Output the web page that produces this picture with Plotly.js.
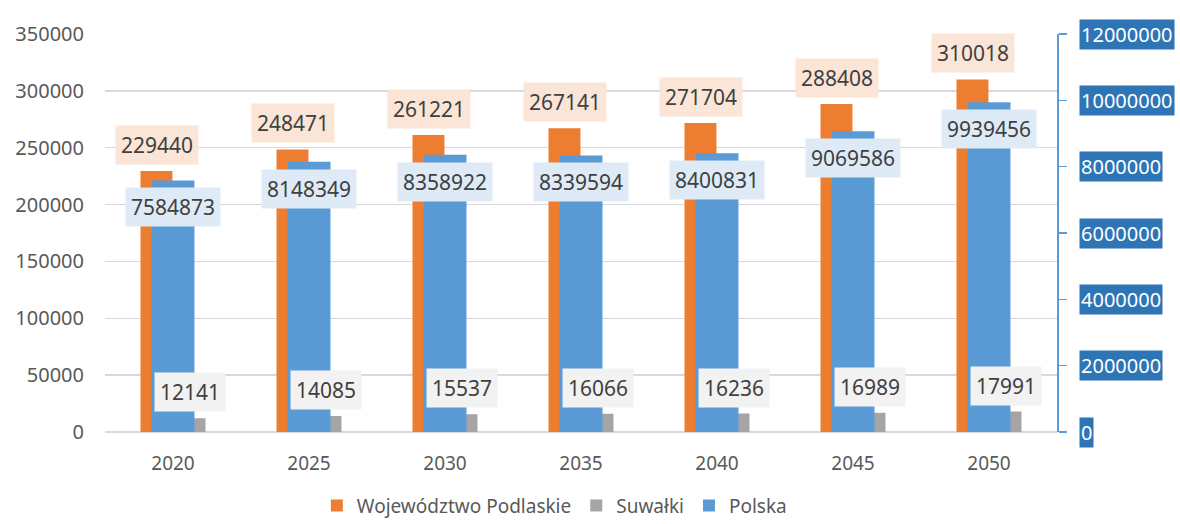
<!DOCTYPE html>
<html>
<head>
<meta charset="utf-8">
<script src="https://cdn.plot.ly/plotly-3.0.1.min.js"></script>
<style>html,body{margin:0;padding:0;background:#fff;}#chart{width:1180px;height:524px;}</style>
</head>
<body>
<div id="chart"></div>
<script>
var years = ['2020', '2025', '2030', '2035', '2040', '2045', '2050'];
var podlaskie = [229440, 248471, 261221, 267141, 271704, 288408, 310018];
var suwalki = [12141, 14085, 15537, 16066, 16236, 16989, 17991];
var polska = [7584873, 8148349, 8358922, 8339594, 8400831, 9069586, 9939456];
var rightTicks = [0, 2000000, 4000000, 6000000, 8000000, 10000000, 12000000];
var seriesNames = ['Województwo Podlaskie', 'Suwałki', 'Polska'];

var FONT = 'Noto Sans, Open Sans, Liberation Sans, sans-serif';
var cOrange = '#ED7D31', cGray = '#A5A5A5', cBlue = '#5B9BD5';

var traces = [
  {type: 'bar', name: seriesNames[0], x: years, y: podlaskie, yaxis: 'y',
   marker: {color: cOrange}, width: 0.235, offset: -0.239, hoverinfo: 'skip'},
  {type: 'bar', name: seriesNames[1], x: years, y: suwalki, yaxis: 'y',
   marker: {color: cGray}, width: 0.235, offset: 0.004, hoverinfo: 'skip'},
  {type: 'bar', name: seriesNames[2], x: years, y: polska, yaxis: 'y2',
   marker: {color: cBlue}, width: 0.316, offset: -0.158, hoverinfo: 'skip'}
];

var ann = [];
var lblFont = {family: FONT, size: 21, color: '#404040'};
years.forEach(function (yr, i) {
  ann.push({x: i, y: podlaskie[i], xref: 'x', yref: 'y', text: String(podlaskie[i]),
    showarrow: false, xshift: -16.5, yshift: 26, yanchor: 'middle',
    bgcolor: '#FBE5D6', borderpad: 5, font: lblFont});
  ann.push({x: i, y: polska[i], xref: 'x', yref: 'y2', text: String(polska[i]),
    showarrow: false, xshift: 0, yshift: -27, yanchor: 'middle',
    bgcolor: '#DEEBF7', borderpad: 5, font: lblFont});
  ann.push({x: i, y: suwalki[i], xref: 'x', yref: 'y', text: String(suwalki[i]),
    showarrow: false, xshift: 16.5, yshift: 26, yanchor: 'middle',
    bgcolor: '#F2F2F2', borderpad: 5, font: lblFont});
});
rightTicks.forEach(function (v) {
  ann.push({x: 1, y: v, xref: 'paper', yref: 'y2', text: String(v),
    showarrow: false, xanchor: 'left', yanchor: 'middle', xshift: 22,
    bgcolor: '#2E75B6', borderpad: 1,
    font: {family: FONT, size: 20, color: '#FFFFFF'}});
});

var layout = {
  width: 1180, height: 524,
  margin: {l: 105, r: 123, t: 34, b: 92, pad: 0, autoexpand: false},
  paper_bgcolor: '#ffffff', plot_bgcolor: '#ffffff',
  barmode: 'overlay',
  showlegend: true,
  legend: {orientation: 'h', x: 0.472, xanchor: 'center', y: -0.185, yanchor: 'middle',
    font: {family: FONT, size: 19, color: '#595959'}, itemclick: false, traceorder: 'normal'},
  xaxis: {type: 'category', range: [-0.5, 6.5], showgrid: false, showline: false,
    zeroline: false, ticks: '', tickfont: {family: FONT, size: 19, color: '#595959'},
    ticklabelstandoff: 18, fixedrange: true, automargin: false},
  yaxis: {range: [0, 350000], dtick: 50000, showgrid: true, gridcolor: '#D9D9D9', gridwidth: 1.5,
    zeroline: true, zerolinecolor: '#D9D9D9', zerolinewidth: 2, showline: false, ticks: '',
    tickfont: {family: FONT, size: 20, color: '#595959'}, ticklabelstandoff: 20,
    tickformat: 'd', fixedrange: true, automargin: false},
  yaxis2: {overlaying: 'y', side: 'right', range: [0, 12000000], dtick: 2000000,
    showgrid: false, zeroline: false, showline: true, linecolor: cBlue, linewidth: 1.5,
    ticks: 'outside', ticklen: 8, tickcolor: cBlue, tickwidth: 1.5,
    showticklabels: false, fixedrange: true, automargin: false},
  annotations: ann
};

Plotly.newPlot('chart', traces, layout, {displayModeBar: false, staticPlot: true});
</script>
</body>
</html>
